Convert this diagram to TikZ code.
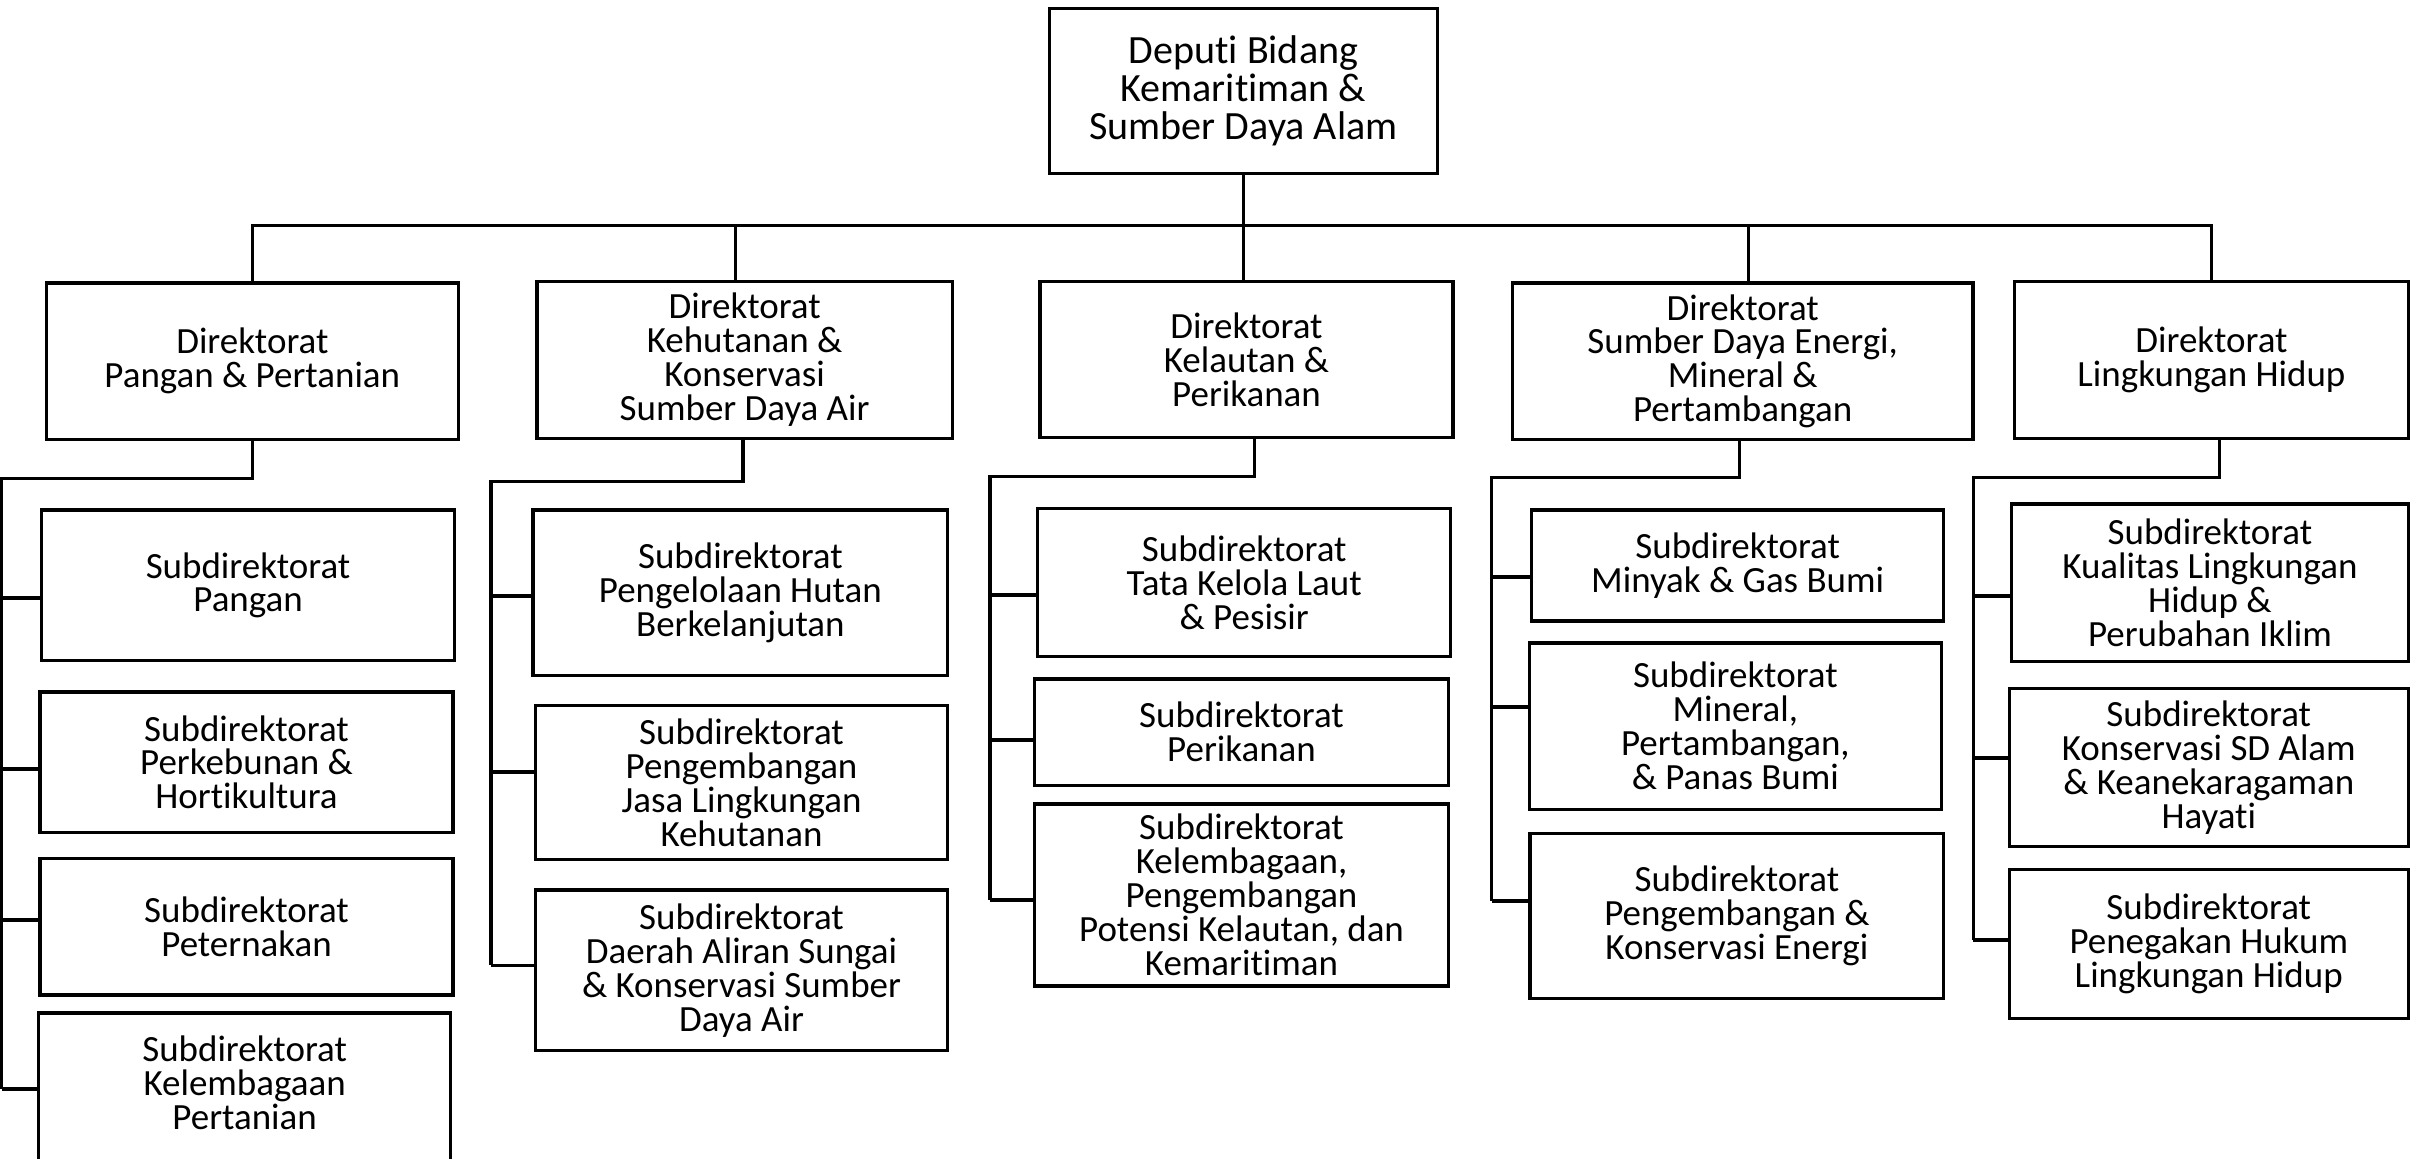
\documentclass[tikz,border=0pt]{standalone}
\usepackage{fontspec}
\setmainfont[Ligatures=NoCommon]{Carlito}
\begin{document}
\begin{tikzpicture}[x=0.5bp,y=-0.5bp,
  box/.style={draw=black,line width=1.1bp,fill=white,align=center,inner sep=0pt,
    font=\fontsize{12bp}{11bp}\selectfont},
  topbox/.style={box,font=\fontsize{13bp}{12.25bp}\selectfont},
  conn/.style={draw=black,line width=1.05bp},
  tick/.style={draw=black,line width=1.25bp}]
\useasboundingbox (0,0) rectangle (1568,752);
\newcommand\bx[7][box]{\node[#1,minimum width={(#4-#2)*0.5bp},minimum height={(#5-#3)*0.5bp}] (#6) at ({(#2+#4)/2},{(#3+#5)/2}) {#7};}
% top
\bx[topbox]{681}{5.5}{933}{112.5}{dep}{Deputi Bidang\\Kemaritiman \&\\Sumber Daya Alam}
% directorates
\bx{30}{183.7}{297.5}{285.2}{d1}{Direktorat\\Pangan \& Pertanian}
\bx{348.5}{182.5}{618}{284.5}{d2}{Direktorat\\Kehutanan \&\\Konservasi\\Sumber Daya Air}
\bx{675}{182.5}{943}{284}{d3}{Direktorat\\Kelautan \&\\Perikanan}
\bx{981.5}{183.7}{1280.5}{285.2}{d4}{Direktorat\\Sumber Daya Energi,\\Mineral \&\\Pertambangan}
\bx{1307.5}{182.5}{1563}{284.5}{d5}{Direktorat\\Lingkungan Hidup}
% column 1
\bx{27}{331}{295}{428.8}{s11}{Subdirektorat\\Pangan}
\bx{26}{449}{294}{540.4}{s12}{Subdirektorat\\Perkebunan \&\\Hortikultura}
\bx{26}{557.2}{294}{645.8}{s13}{Subdirektorat\\Peternakan}
\bx{25}{657.4}{292.5}{770}{s14}{Subdirektorat\\Kelembagaan\\Pertanian\\~}
% column 2
\bx{346}{331}{615}{438.4}{s21}{Subdirektorat\\Pengelolaan Hutan\\Berkelanjutan}
\bx{347.5}{458}{615}{558}{s22}{Subdirektorat\\Pengembangan\\Jasa Lingkungan\\Kehutanan}
\bx{347.5}{577.6}{615}{681.9}{s23}{Subdirektorat\\Daerah Aliran Sungai\\\& Konservasi Sumber\\Daya Air}
% column 3
\bx{673.5}{330}{941.5}{426}{s31}{Subdirektorat\\Tata Kelola Laut\\\& Pesisir}
\bx{671.5}{440.7}{940}{509.7}{s32}{Subdirektorat\\Perikanan}
\bx{671.5}{521.7}{940}{640}{s33}{Subdirektorat\\Kelembagaan,\\Pengembangan\\Potensi Kelautan, dan\\Kemaritiman}
% column 4
\bx{994}{331}{1261.5}{403}{s41}{Subdirektorat\\Minyak \& Gas Bumi}
\bx{992.5}{417.2}{1260}{525.3}{s42}{Subdirektorat\\Mineral,\\Pertambangan,\\\& Panas Bumi}
\bx{993}{541}{1261.5}{648.2}{s43}{Subdirektorat\\Pengembangan \&\\Konservasi Energi}
% column 5
\bx{1305.5}{327}{1563}{429.3}{s51}{Subdirektorat\\Kualitas Lingkungan\\Hidup \&\\Perubahan Iklim}
\bx{1304}{446.8}{1563}{549.3}{s52}{Subdirektorat\\Konservasi SD Alam\\\& Keanekaragaman\\Hayati}
\bx{1304}{564.5}{1563}{661}{s53}{Subdirektorat\\Penegakan Hukum\\Lingkungan Hidup}
% bus
\coordinate (bus) at (0,146.5);
\draw[conn] (dep.south) -- (dep.south |- d3.north);
\draw[conn] (d1.north) -- (d1.north |- bus) -- (d5.north |- bus) -- (d5.north);
\draw[conn] ([xshift=-3bp]d2.north) -- ([xshift=-3bp]d2.north |- bus);
\draw[conn] ([xshift=2bp]d4.north) -- ([xshift=2bp]d4.north |- bus);
% column trunks and ticks
\coordinate (t1) at (1,310.7);
\coordinate (k11) at (1,387.9); \coordinate (k12) at (1,499); \coordinate (k13) at (1,597); \coordinate (k14) at (1,707);
\draw[conn] (d1.south) -- (d1.south |- t1) -- (t1) -- (k14);
\foreach \i in {1,2,3,4} \draw[tick] (k1\i) -- (k1\i -| s1\i.west);
\coordinate (t2) at (318.6,312.6);
\coordinate (k21) at (318.6,387); \coordinate (k22) at (318.6,501); \coordinate (k23) at (318.6,626.6);
\draw[conn] ([xshift=-0.5bp]d2.south) -- ([xshift=-0.5bp]d2.south |- t2) -- (t2) -- (k23);
\foreach \i in {1,2,3} \draw[tick] (k2\i) -- (k2\i -| s2\i.west);
\coordinate (t3) at (642.5,309.3);
\coordinate (k31) at (642.5,386); \coordinate (k32) at (642.5,480); \coordinate (k33) at (642.5,584);
\draw[conn] ([xshift=2.5bp]d3.south) -- ([xshift=2.5bp]d3.south |- t3) -- (t3) -- (k33);
\foreach \i in {1,2,3} \draw[tick] (k3\i) -- (k3\i -| s3\i.west);
\coordinate (t4) at (968,309.7);
\coordinate (k41) at (968,374.6); \coordinate (k42) at (968,459); \coordinate (k43) at (968,585);
\draw[conn] ([xshift=-1bp]d4.south) -- ([xshift=-1bp]d4.south |- t4) -- (t4) -- (k43);
\foreach \i in {1,2,3} \draw[tick] (k4\i) -- (k4\i -| s4\i.west);
\coordinate (t5) at (1280.6,309.7);
\coordinate (k51) at (1280.6,387); \coordinate (k52) at (1280.6,491.7); \coordinate (k53) at (1280.6,609.8);
\draw[conn] ([xshift=2.7bp]d5.south) -- ([xshift=2.7bp]d5.south |- t5) -- (t5) -- (k53);
\foreach \i in {1,2,3} \draw[tick] (k5\i) -- (k5\i -| s5\i.west);
\end{tikzpicture}
\end{document}
